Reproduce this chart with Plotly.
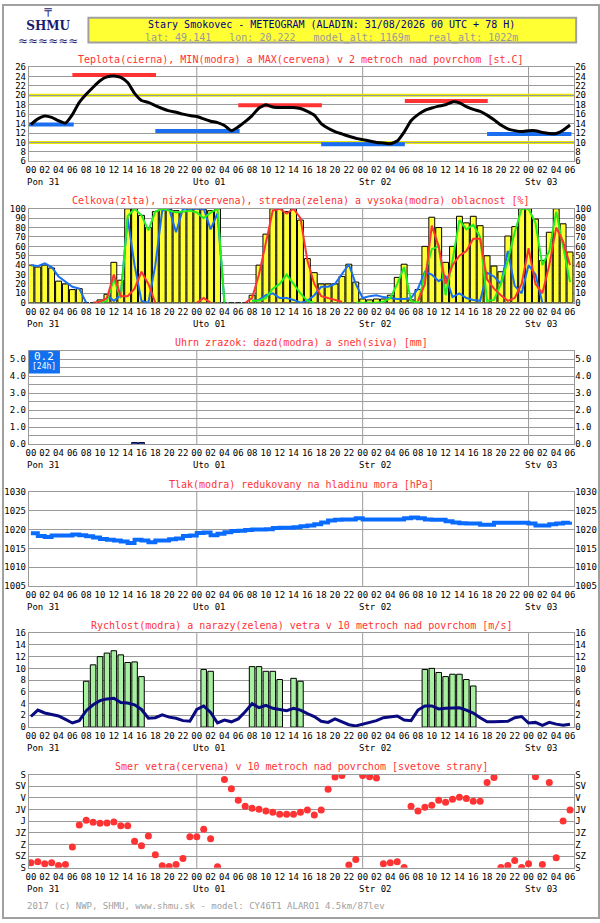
import plotly.graph_objects as go

# --- data (hourly, forecast hour 0..78) ---
hours = list(range(79))
tick_hours = list(range(0, 79, 2))
tick_labels = ["%02d" % (h % 24) for h in tick_hours]
day_hours = [0, 24, 48, 72]
day_names = ["Pon 31", "Uto 01", "Str 02", "Stv 03"]

temperature = [13.8, 15.0, 15.6, 15.3, 14.6, 14.1, 15.9, 18.5, 20.2, 21.7,
               23.1, 23.9, 24.1, 23.8, 22.7, 20.4, 18.9, 18.5, 17.8, 17.2,
               16.7, 16.4, 16.0, 15.7, 15.5, 15.0, 14.5, 14.2, 13.6, 12.5,
               13.3, 14.4, 15.7, 17.3, 18.0, 17.5, 17.4, 17.4, 17.4, 17.2,
               16.6, 15.8, 14.0, 13.0, 12.3, 11.8, 11.3, 10.9, 10.6, 10.3,
               10.0, 9.9, 9.7, 10.3, 12.2, 14.6, 15.9, 16.8, 17.3, 17.7,
               18.0, 18.6, 18.4, 17.6, 17.0, 16.6, 15.8, 14.8, 13.7, 12.9,
               12.5, 12.3, 12.5, 12.5, 12.1, 11.9, 11.9, 12.6, 13.7]
tmin_value = [13.8, 12.4, 9.6, 11.8]
tmin_from = [-0.3, 18, 42, 66]
tmin_to = [6.2, 30.2, 54.1, 78.2]
tmax_value = [24.3, 17.9, 18.8]
tmax_from = [6, 30, 54.1]
tmax_to = [18.1, 42.1, 66.1]

cloud_total = [40, 38, 40, 37, 23, 20, 14, 15, 0, 0,
               3, 9, 43, 24, 100, 100, 93, 80, 97, 100,
               99, 98, 97, 100, 100, 99, 98, 100, 0, 0,
               0, 0, 8, 40, 73, 100, 100, 97, 100, 88,
               47, 32, 20, 20, 20, 28, 41, 22, 4, 3,
               4, 4, 8, 27, 41, 3, 14, 60, 91, 80,
               43, 60, 92, 85, 92, 82, 50, 39, 33, 71,
               81, 100, 100, 89, 45, 75, 100, 84, 54]
cloud_high = [40, 39, 42, 38, 28, 22, 17, 15, 0, None,
              None, 8, 2, 8, 90, 40, 2, 0, 40, 98,
              100, 75, 100, 100, 100, 100, 78, 95, 0, None,
              None, None, 2, 3, 8, 10, 5, 5, 3, 0,
              2, 8, 17, 17, 20, 30, 41, 20, 5, 7,
              8, 6, 5, 4, 4, 5, 15, 33, 30, 23,
              28, 6, 10, 5, 3, 2, 32, 28, 20, 55,
              18, 10, 40, 30, 0, None, None, None, None]
cloud_mid = [None, None, None, None, None, None, None, None, None, None,
             0, 2, 25, 5, 92, 100, 93, 77, 97, 100,
             98, 96, 97, 98, 96, 90, 96, 100, 0, None,
             None, None, 2, 2, 5, 15, 20, 30, 20, 10,
             2, 0, None, None, None, None, None, 0, 0, 0,
             0, 1, 5, 20, 38, 2, 0, 30, 57, 60,
             8, 45, 88, 78, 83, 70, 2, 3, 20, 45,
             75, 100, 100, 85, 40, 55, 97, 60, 22]
cloud_low = [None, None, None, None, None, None, None, None, None, 0,
             1, 5, 30, 7, 7, 15, 33, 20, 0, None,
             None, None, None, None, 0, 5, 0, None, None, None,
             None, 0, 5, 30, 65, 98, 100, 95, 100, 90,
             45, 20, 7, 5, 3, 1, None, None, None, None,
             None, None, None, None, None, None, 2, 20, 82, 60,
             20, 40, 50, 55, 68, 68, 25, 15, 8, 2,
             5, 20, 58, 20, 10, 40, 80, 65, 40]

rain_hours = [15, 16]
rain_mm = [0.1, 0.1]

pressure = [1019.0, 1018.3, 1018.0, 1018.4, 1018.4, 1018.4, 1018.7, 1018.5, 1018.2, 1017.9,
            1017.5, 1017.3, 1017.1, 1016.8, 1016.4, 1017.3, 1017.1, 1016.6, 1017.1, 1017.1,
            1017.4, 1017.6, 1018.3, 1018.4, 1019.1, 1019.2, 1018.5, 1018.9, 1019.3, 1019.6,
            1019.7, 1019.9, 1020.0, 1020.0, 1020.1, 1020.4, 1020.5, 1020.5, 1020.6, 1020.9,
            1021.1, 1021.4, 1021.9, 1022.4, 1022.6, 1022.7, 1022.7, 1023.0, 1022.7, 1022.7,
            1022.7, 1022.7, 1022.7, 1022.7, 1023.0, 1023.2, 1023.0, 1022.7, 1022.6, 1022.6,
            1022.2, 1021.9, 1021.7, 1021.6, 1021.6, 1021.3, 1021.3, 1021.8, 1021.8, 1021.8,
            1021.8, 1021.8, 1021.6, 1021.1, 1021.1, 1021.4, 1021.6, 1021.8, 1022.1]

wind_speed = [1.8, 2.9, 2.4, 2.1, 1.9, 1.3, 0.7, 1.1, 2.8, 3.8,
              4.5, 4.8, 4.9, 4.2, 4.1, 3.8, 3.0, 1.5, 1.6, 2.1,
              1.7, 1.5, 1.1, 1.0, 3.0, 3.6, 2.5, 0.7, 1.2, 0.9,
              1.4, 2.6, 4.0, 3.3, 3.7, 3.2, 3.0, 2.8, 3.2, 2.9,
              2.3, 1.8, 1.0, 0.8, 1.4, 0.9, 0.4, 0.2, 0.5, 0.7,
              1.1, 1.6, 1.8, 1.9, 1.2, 1.1, 2.9, 3.6, 3.6, 3.1,
              3.2, 3.3, 3.3, 2.9, 2.4, 1.6, 0.9, 0.9, 1.0, 1.0,
              1.6, 1.8, 0.7, 0.8, 0.3, 0.8, 0.5, 0.3, 0.5]
gust_hours = [8, 9, 10, 11, 12, 13, 14, 15, 16, 25, 26, 32, 33, 34, 35, 36, 38, 39,
              57, 58, 59, 60, 61, 62, 63, 64]
gust_values = [7.8, 10.6, 12.0, 12.6, 13.0, 12.3, 11.0, 11.1, 8.6, 9.8, 9.5, 10.3, 10.3,
               9.5, 9.5, 8.1, 8.3, 7.8, 9.8, 10.0, 9.3, 8.6, 9.0, 9.0, 8.1, 7.0]

wind_dir = [340, 336, 344, 340, 351, 347, 280, 195, 176, 184,
            188, 187, 183, 198, 198, 257, 275, 237, 309, 352,
            355, 347, 324, 240, 240, 211, 248, 356, 19, 55,
            99, 122, 130, 134, 141, 145, 153, 153, 153, 145,
            137, 156, 137, 57, 9, 4, 349, 328, 4, 8,
            13, 344, 340, 336, 359, 122, 141, 126, 118, 99,
            107, 95, 88, 92, 103, 103, 31, 11, 359, 351,
            332, 359, 344, 8, 347, 31, 321, 179, 137]
dir_names = ["S", "SV", "V", "JV", "J", "JZ", "Z", "SZ", "S"]

# --- page geometry (pixels) ---
W, H = 600, 923
LEFT, RIGHT = 26, 575
X_RANGE = [-0.3, 78.6]
MONO = "DejaVu Sans Mono"
FRAME = "#9a9a9a"
RED = "#ff3333"
BLUE = "#1a6ff0"
NAVY = "#1a1a6e"


def fx(p):
    return p / W


def fy(p):
    return 1 - p / H


def hour_px(h):
    return LEFT + (h - X_RANGE[0]) * (RIGHT - LEFT) / (X_RANGE[1] - X_RANGE[0])


def segments(starts, ends, values):
    xs, ys = [], []
    for a, b, v in zip(starts, ends, values):
        xs += [a, b, None]
        ys += [v, v, None]
    return xs, ys


def page_text(text, x, y, size=9, color="black", xanchor="center", family=MONO):
    # text placed by page pixel position
    return dict(text=text, xref="paper", yref="paper", x=fx(x), y=fy(y), xanchor=xanchor,
                yanchor="middle", showarrow=False, font=dict(family=family, size=size, color=color))


panels = [
    dict(top=62.7, bottom=158, title="Teplota(cierna), MIN(modra) a MAX(cervena) v 2 metroch nad povrchom [st.C]",
         rng=[6, 26], vals=list(range(6, 27, 2)), text=[str(v) for v in range(6, 27, 2)]),
    dict(top=206, bottom=301, title="Celkova(zlta), nizka(cervena), stredna(zelena) a vysoka(modra) oblacnost [%]",
         rng=[0, 100], vals=list(range(0, 101, 10)), text=[str(v) for v in range(0, 101, 10)]),
    dict(top=349.3, bottom=444, title="Uhrn zrazok: dazd(modra) a sneh(siva) [mm]",
         rng=[0, 5.5], vals=[i / 2 for i in range(11)],
         text=["%.1f" % (i / 2) if i % 2 == 0 else "" for i in range(11)]),
    dict(top=492.3, bottom=587.3, title="Tlak(modra) redukovany na hladinu mora [hPa]",
         rng=[1005, 1030], vals=list(range(1005, 1031, 5)), text=[str(v) for v in range(1005, 1031, 5)]),
    dict(top=635, bottom=730, title="Rychlost(modra) a narazy(zelena) vetra v 10 metroch nad povrchom [m/s]",
         rng=[0, 16], vals=list(range(0, 17, 2)), text=[str(v) for v in range(0, 17, 2)]),
    dict(top=778, bottom=872.3, title="Smer vetra(cervena) v 10 metroch nad povrchom [svetove strany]",
         rng=[360, 0], vals=list(range(0, 361, 45)), text=dir_names),
]


def ax(i, kind):
    return kind if i == 1 else "%s%d" % (kind, i)


fig = go.Figure()

# temperature panel
sx, sy = segments(tmin_from, tmin_to, tmin_value)
fig.add_trace(go.Scatter(x=sx, y=sy, mode="lines", line=dict(color=BLUE, width=4)))
sx, sy = segments(tmax_from, tmax_to, tmax_value)
fig.add_trace(go.Scatter(x=sx, y=sy, mode="lines", line=dict(color=RED, width=4)))
fig.add_trace(go.Scatter(x=hours, y=temperature, mode="lines",
                         line=dict(color="black", width=3, shape="spline", smoothing=0.5)))

# cloud panel
fig.add_trace(go.Bar(x=hours, y=cloud_total, width=0.85,
                     marker=dict(color="#ffff33", line=dict(color="black", width=1)), xaxis="x2", yaxis="y2"))
fig.add_trace(go.Scatter(x=hours, y=cloud_high, mode="lines", line=dict(color=BLUE, width=2), xaxis="x2", yaxis="y2"))
fig.add_trace(go.Scatter(x=hours, y=cloud_mid, mode="lines", line=dict(color="#22ee22", width=2), xaxis="x2", yaxis="y2"))
fig.add_trace(go.Scatter(x=hours, y=cloud_low, mode="lines", line=dict(color=RED, width=2), xaxis="x2", yaxis="y2"))

# precipitation panel
fig.add_trace(go.Bar(x=rain_hours, y=rain_mm, width=0.85,
                     marker=dict(color="#2a66cc", line=dict(color="#0a0a40", width=1)), xaxis="x3", yaxis="y3"))

# pressure panel
fig.add_trace(go.Scatter(x=hours, y=pressure, mode="lines", line=dict(color="#0a6cff", width=4, shape="hv"),
                         xaxis="x4", yaxis="y4"))

# wind speed / gusts
fig.add_trace(go.Bar(x=gust_hours, y=gust_values, width=0.8,
                     marker=dict(color="#a6f0a0", line=dict(color="black", width=1)), xaxis="x5", yaxis="y5"))
fig.add_trace(go.Scatter(x=hours, y=wind_speed, mode="lines", line=dict(color="#0a0a80", width=3),
                         xaxis="x5", yaxis="y5"))

# wind direction
fig.add_trace(go.Scatter(x=hours, y=wind_dir, mode="markers", marker=dict(color=RED, size=7),
                         xaxis="x6", yaxis="y6"))

layout = dict(width=W, height=H, margin=dict(l=0, r=0, t=0, b=0), showlegend=False,
              paper_bgcolor="white", plot_bgcolor="white", barmode="overlay", hovermode=False,
              font=dict(family=MONO, size=9, color="black"))
shapes = []
annotations = []

for i, p in enumerate(panels, start=1):
    dom = [fy(p["bottom"]), fy(p["top"])]
    layout[ax(i, "xaxis")] = dict(domain=[fx(LEFT), fx(RIGHT)], range=X_RANGE, anchor=ax(i, "y"),
                                  tickvals=tick_hours, ticktext=tick_labels, tickangle=0, ticks="",
                                  showgrid=False, zeroline=False, showline=True, mirror=True,
                                  linecolor=FRAME, linewidth=1, tickfont=dict(family=MONO, size=9))
    layout[ax(i, "yaxis")] = dict(domain=dom, range=p["rng"], anchor=ax(i, "x"), tickvals=p["vals"],
                                  ticktext=p["text"], ticks="", showgrid=True, gridcolor=FRAME, gridwidth=1,
                                  zeroline=False, showline=True, mirror=True, linecolor=FRAME,
                                  tickfont=dict(family=MONO, size=9))
    layout["yaxis%d" % (6 + i)] = dict(overlaying=ax(i, "y"), side="right", anchor=ax(i, "x"), range=p["rng"],
                                       tickvals=p["vals"], ticktext=p["text"], ticks="", showgrid=False,
                                       zeroline=False, showline=False, tickfont=dict(family=MONO, size=9))
    fig.add_trace(go.Scatter(x=[None], y=[None], xaxis=ax(i, "x"), yaxis="y%d" % (6 + i), hoverinfo="skip"))
    for d in day_hours[1:]:
        shapes.append(dict(type="line", xref=ax(i, "x"), yref=ax(i, "y") + " domain", x0=d, x1=d, y0=0, y1=1,
                           line=dict(color=FRAME, width=1), layer="below"))
    annotations.append(page_text(p["title"], W / 2, p["top"] - 8, size=10, color=RED))
    for d, name in zip(day_hours, day_names):
        annotations.append(page_text(name, hour_px(d) - 6, p["bottom"] + 21, xanchor="left"))

# yellow reference lines in the temperature panel
for level in [10, 20]:
    shapes.append(dict(type="line", xref="x domain", yref="y", x0=0, x1=1, y0=level, y1=level,
                       line=dict(color="#e8e800", width=3), layer="below"))

# 24h precipitation sum box
shapes.append(dict(type="rect", xref="x3", yref="y3", x0=-0.3, x1=4.2, y0=4.15, y1=5.5,
                   fillcolor="#1070f0", line=dict(width=0)))
annotations.append(dict(text="%.1f" % sum(rain_mm), xref="x3", yref="y3", x=1.95, y=5.12, showarrow=False,
                        xanchor="center", yanchor="middle", font=dict(family=MONO, size=11, color="white")))
annotations.append(dict(text="[24h]", xref="x3", yref="y3", x=1.95, y=4.55, showarrow=False,
                        xanchor="center", yanchor="middle", font=dict(family=MONO, size=8, color="white")))

# header
shapes.append(dict(type="rect", xref="paper", yref="paper", x0=fx(86), x1=fx(577), y0=fy(38), y1=fy(13),
                   fillcolor="#ffff33", line=dict(color="#a0a0a0", width=2)))
annotations.append(page_text("Stary Smokovec - METEOGRAM (ALADIN: 31/08/2026 00 UTC + 78 H)", 331, 20,
                             size=10, color="#000080"))
annotations.append(page_text("lat: 49.141   lon: 20.222   model_alt: 1169m   real_alt: 1022m", 331, 33,
                             size=10, color="#9a9a9a"))
logo = page_text("╤<br><b>SHMU</b><br>≈≈≈≈≈≈", 45, 21, size=12, color=NAVY, family="DejaVu Serif")
annotations.append(logo)

# footer and page border
annotations.append(page_text("2017 (c) NWP, SHMU, www.shmu.sk - model: CY46T1 ALARO1 4.5km/87lev", 22, 911,
                             color="#a0a0a0", xanchor="left"))
shapes.append(dict(type="rect", xref="paper", yref="paper", x0=0, x1=1, y0=0, y1=1,
                   line=dict(color="#a0a0a0", width=2)))

layout["shapes"] = shapes
layout["annotations"] = annotations
fig.update_layout(**layout)

fig.write_html("out.html", config={"displayModeBar": False},
               post_script="document.body.style.margin='0';document.body.style.overflow='hidden';")
